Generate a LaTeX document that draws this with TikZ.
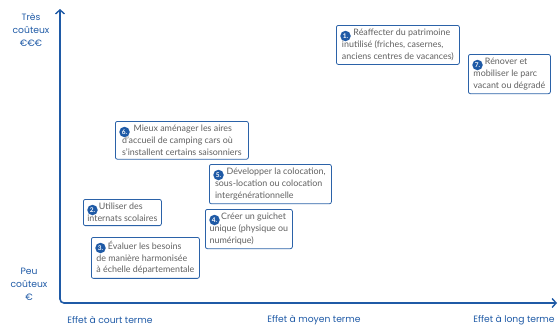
\documentclass[tikz,border=0pt]{standalone}
\usepackage{fontspec}
\setmainfont{Lato}
\newfontfamily\axisfont{Poppins}
\usetikzlibrary{arrows.meta}
\definecolor{axblue}{HTML}{1F5AA6}
\definecolor{boxblue}{HTML}{2B62A8}
\definecolor{txtgray}{HTML}{606060}
\tikzset{
  x=1pt,y=-1pt,
  box/.style={draw=boxblue, line width=0.8pt, rounded corners=2pt, anchor=north west,
    inner xsep=3pt, inner ysep=4pt, align=left, text=txtgray,
    font=\fontsize{8.9}{11.6}\selectfont},
  badge/.style={circle, fill=axblue, text=white, inner sep=0pt, minimum size=10.5pt,
    font=\fontsize{6.5}{7}\selectfont\bfseries},
  axlab/.style={text=axblue, font=\axisfont\fontsize{9.2}{13}\selectfont, align=center},
  axisline/.style={draw=axblue, line width=1.6pt, rounded corners=4pt,
    {Straight Barb[length=4pt,width=9pt,line width=1.4pt]}-{Straight Barb[length=4pt,width=9pt,line width=1.4pt]}}
}
\newcommand{\bsp}{\hspace*{11.5pt}}
\begin{document}
\begin{tikzpicture}
\useasboundingbox (0,0) rectangle (559,327);
\coordinate (ytop) at (60,9);
\coordinate (corner) at (60,303);
\coordinate (xend) at (557,303);
\draw[axisline] (ytop) -- (corner) -- (xend);

\node[axlab] (hi) at (31,30) {Très\\coûteux\\€€€};
\node[axlab] (lo) at (29,284) {Peu\\coûteux\\€};
\node[axlab] (court) at (110,320) {Effet à court terme};
\node[axlab] (moyen) at (314,320) {Effet à moyen terme};
\node[axlab] (long) at (514,320) {Effet à long terme};

\node[box, minimum width=123pt] (b1) at (336,25) {\bsp Réaffecter du patrimoine\\inutilisé (friches, casernes,\\anciens centres de vacances)};
\node[badge] (n1) at ([xshift=9.5pt,yshift=-11pt]b1.north west) {1.};
\node[box, minimum width=82pt] (b7) at (468,54) {\bsp Rénover et\\mobiliser le parc\\vacant ou dégradé};
\node[badge] (n7) at ([xshift=9.5pt,yshift=-11pt]b7.north west) {7.};
\node[box, minimum width=133pt] (b6) at (115,121) {\bsp Mieux aménager les aires\\d'accueil de camping cars où\\s'installent certains saisonniers};
\node[badge] (n6) at ([xshift=9.5pt,yshift=-11pt]b6.north west) {6.};
\node[box, minimum width=122pt] (b5) at (209,164) {\bsp Développer la colocation,\\sous-location ou colocation\\intergénérationnelle};
\node[badge] (n5) at ([xshift=9.5pt,yshift=-11pt]b5.north west) {5.};
\node[box, minimum width=87pt] (b4) at (205,209) {\bsp Créer un guichet\\unique (physique ou\\numérique)};
\node[badge] (n4) at ([xshift=9.5pt,yshift=-11pt]b4.north west) {4.};
\node[box, minimum width=78pt] (b2) at (83,199) {\bsp Utiliser des\\internats scolaires};
\node[badge] (n2) at ([xshift=9.5pt,yshift=-11pt]b2.north west) {2.};
\node[box, minimum width=108pt] (b3) at (91,237) {\bsp Évaluer les besoins\\de manière harmonisée\\à échelle départementale};
\node[badge] (n3) at ([xshift=9.5pt,yshift=-11pt]b3.north west) {3.};
\end{tikzpicture}
\end{document}
